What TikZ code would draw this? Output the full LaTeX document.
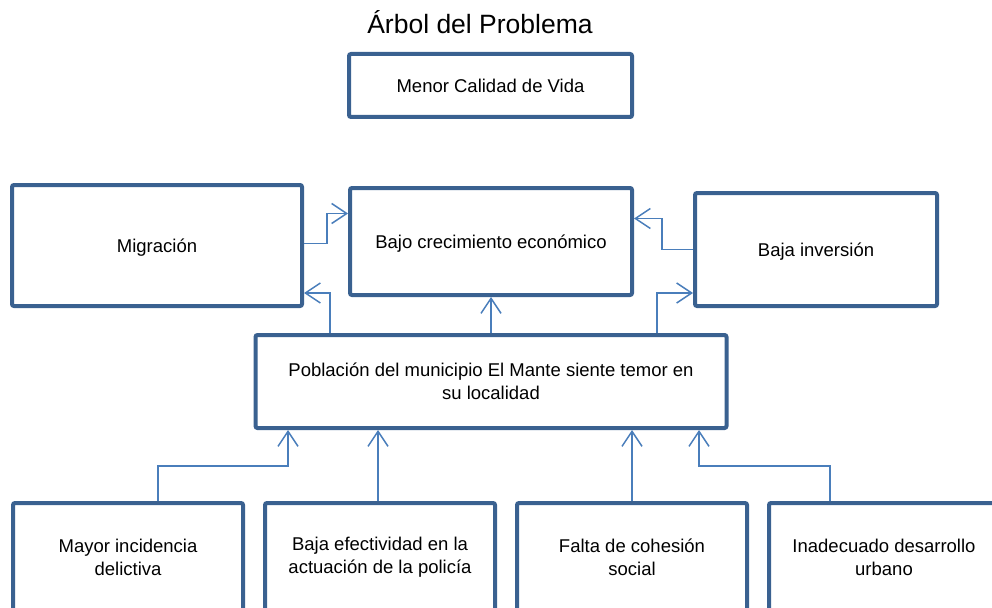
\documentclass[tikz,border=0pt]{standalone}
\usepackage{fontspec}
\setmainfont{Liberation Sans}
\usepackage{tikz}
\usetikzlibrary{arrows.meta,positioning}
\definecolor{boxline}{HTML}{3A6190}
\definecolor{arrline}{HTML}{4A7EBB}

\begin{document}
\begin{tikzpicture}[x=1pt, y=-1pt,
  box/.style={draw=boxline, line width=4pt, rounded corners=2pt, fill=white, align=center, inner sep=4pt, font=\fontsize{18.5}{23}\selectfont},
  midbox/.style={box, text depth=-2pt},
  lowbox/.style={box, minimum width=230pt, minimum height=108pt},
  arr/.style={-{Straight Barb[length=15pt, width=20pt]}, line width=1.5pt, arrline}
]
  \useasboundingbox (0,0) rectangle (992,607);
  \node[font=\fontsize{26.5}{30}\selectfont] (title) at (480,22) {Árbol del Problema};
  \node[box, minimum width=283pt, minimum height=63pt] (vida) at (490.5,85.5) {Menor Calidad de Vida};
  \node[midbox, minimum width=290pt, minimum height=121pt] (migr) at (157,245.5) {Migración};
  \node[midbox, minimum width=282pt, minimum height=107pt] (bajo) at (491,241.5) {Bajo crecimiento económico};
  \node[midbox, minimum width=242pt, minimum height=113pt] (binv) at (816,249.5) {Baja inversión};
  \node[box, minimum width=471pt, minimum height=93pt] (pob) at (491,381.5) {Población del municipio El Mante siente temor en\\su localidad};
  \node[lowbox] (delito) at (128,557) {Mayor incidencia\\delictiva};
  \node[lowbox, right=18pt of delito] (policia) {Baja efectividad en la\\actuación de la policía};
  \node[lowbox, right=18pt of policia] (cohesion) {Falta de cohesión\\social};
  \node[lowbox, right=18pt of cohesion] (urbano) {Inadecuado desarrollo\\urbano};
  % efectos
  \draw[arr] ([xshift=-161pt]pob.north) |- ([yshift=15pt]migr.south east);
  \draw[arr] ([yshift=2pt]migr.east) -- ++(23,0) |- ([yshift=28pt]bajo.west);
  \draw[arr] (pob.north) -- (bajo.south);
  \draw[arr] (binv.west) -- ++(-31,0) |- ([yshift=23pt]bajo.east);
  \draw[arr] ([xshift=166pt]pob.north) |- ([yshift=15pt]binv.south west);
  % causas
  \draw[arr] ([xshift=30pt]delito.north) -- ++(0,-35) -| ([xshift=-203pt]pob.south);
  \draw[arr] ([xshift=-2pt]policia.north) -- ([xshift=-2pt]policia.north |- pob.south);
  \draw[arr] (cohesion.north) -- (cohesion.north |- pob.south);
  \draw[arr] ([xshift=-54pt]urbano.north) -- ++(0,-35) -| ([xshift=208pt]pob.south);
\end{tikzpicture}
\end{document}
